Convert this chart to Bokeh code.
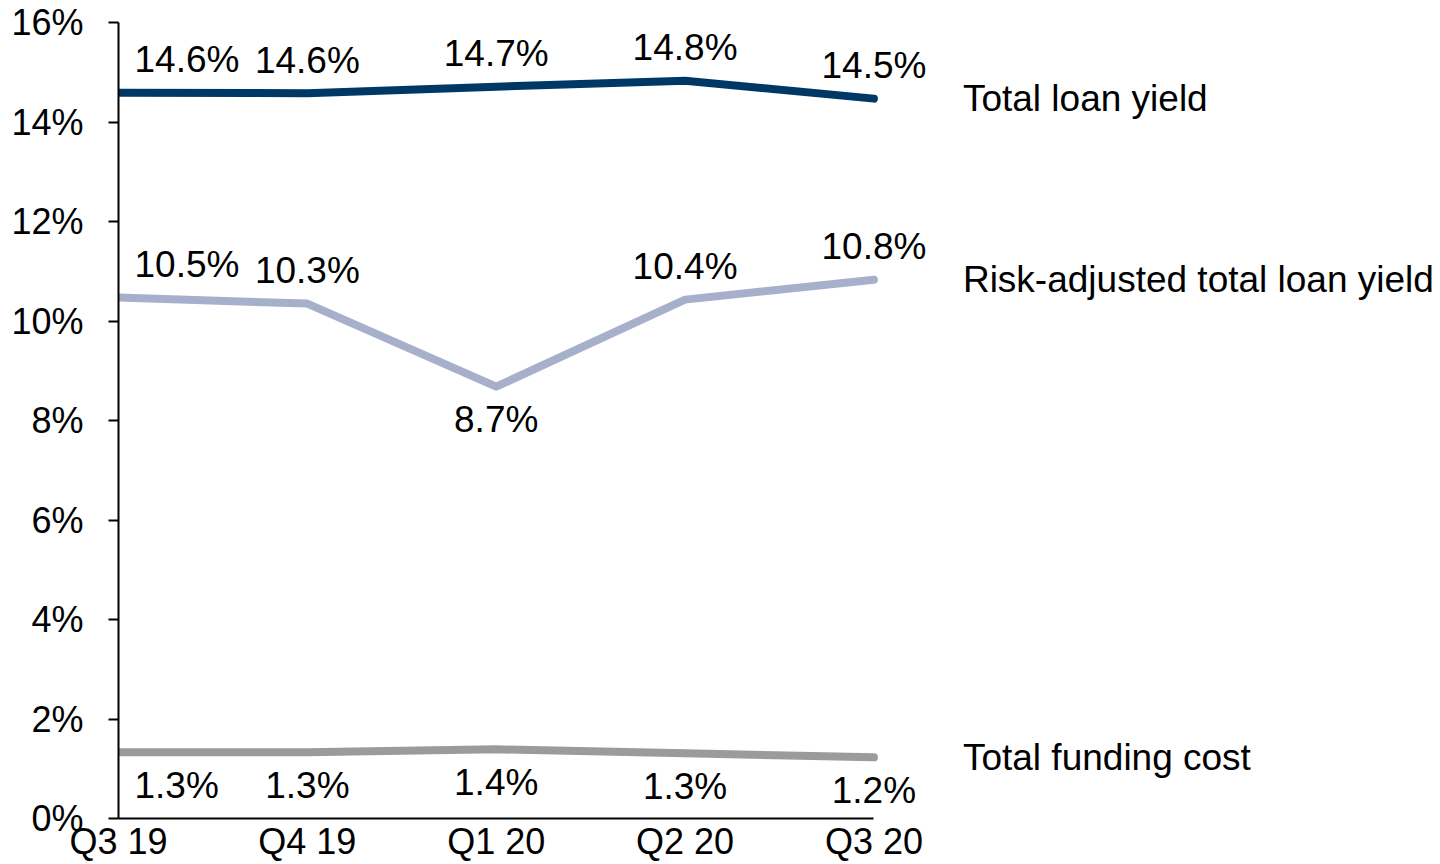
from bokeh.plotting import figure
from bokeh.models import Range1d, FixedTicker, PrintfTickFormatter, Label
from bokeh.embed import file_html
from bokeh.resources import INLINE

# ---- data ----
quarters = ["Q3 19", "Q4 19", "Q1 20", "Q2 20", "Q3 20"]
total_loan_yield = [14.59, 14.58, 14.71, 14.83, 14.47]
risk_adjusted_yield = [10.47, 10.35, 8.68, 10.43, 10.83]
total_funding_cost = [1.33, 1.33, 1.39, 1.31, 1.23]
loan_labels = ["14.6%", "14.6%", "14.7%", "14.8%", "14.5%"]
risk_labels = ["10.5%", "10.3%", "8.7%", "10.4%", "10.8%"]
funding_labels = ["1.3%", "1.3%", "1.4%", "1.3%", "1.2%"]
series_names = ["Total loan yield", "Risk-adjusted total loan yield", "Total funding cost"]
y_ticks = [0, 2, 4, 6, 8, 10, 12, 14, 16]

# ---- styles ----
FONT = "Liberation Sans"
FS_TICK = "36px"
FS_LABEL = "37px"
colors = ["#003865", "#A6B0CB", "#9B9B9B"]
risk_place = ["above", "above", "below", "above", "above"]
X_END = 7.0  # extra room on the right for the series names

xs = list(range(len(quarters)))

p = figure(width=1440, height=864, output_backend="svg", toolbar_location=None,
           x_range=Range1d(0, X_END), y_range=Range1d(y_ticks[0], y_ticks[-1]),
           min_border_left=118, min_border_top=22, min_border_right=0, min_border_bottom=46)
p.outline_line_color = None
p.grid.visible = False
p.background_fill_color = "white"
p.border_fill_color = "white"

# axes
p.xaxis.ticker = FixedTicker(ticks=xs)
p.xaxis.bounds = (xs[0], xs[-1])
p.xaxis.major_label_overrides = {i: q for i, q in enumerate(quarters)}
p.xaxis.major_tick_line_color = None
p.xaxis.minor_tick_line_color = None
p.xaxis.major_label_standoff = -4
p.yaxis.ticker = FixedTicker(ticks=y_ticks)
p.yaxis.formatter = PrintfTickFormatter(format="%d%%")
p.yaxis.major_tick_out = 10
p.yaxis.major_tick_in = 0
p.yaxis.major_tick_line_color = "black"
p.yaxis.major_tick_line_width = 2
p.yaxis.minor_tick_line_color = None
p.yaxis.major_label_standoff = 25
for ax in (p.xaxis, p.yaxis):
    ax.axis_line_width = 2
    ax.axis_line_color = "black"
    ax.major_label_text_font = FONT
    ax.major_label_text_font_size = FS_TICK
    ax.major_label_text_color = "black"

series = [total_loan_yield, risk_adjusted_yield, total_funding_cost]
labels = [loan_labels, risk_labels, funding_labels]
places = [["above"] * 5, risk_place, ["below"] * 5]

for vals, col in zip(series, colors):
    p.line(xs, vals, line_width=8, line_color=col, line_cap="round", line_join="round")

for vals, labs, pl in zip(series, labels, places):
    for i, (v, t, where) in enumerate(zip(vals, labs, pl)):
        dy = 33 if where == "above" else -33
        if i == 0:
            align, dx = "left", 16
        else:
            align, dx = "center", 0
        p.add_layout(Label(x=xs[i], y=v, text=t, x_offset=dx, y_offset=dy,
                           text_align=align, text_baseline="alphabetic",
                           text_font=FONT, text_font_size=FS_LABEL, text_color="black"))

for vals, name in zip(series, series_names):
    p.add_layout(Label(x=xs[-1], y=vals[-1], text=name, x_offset=89, y_offset=0,
                       text_align="left", text_baseline="middle",
                       text_font=FONT, text_font_size=FS_LABEL, text_color="black"))

open("out.html", "w").write(file_html(p, INLINE))
